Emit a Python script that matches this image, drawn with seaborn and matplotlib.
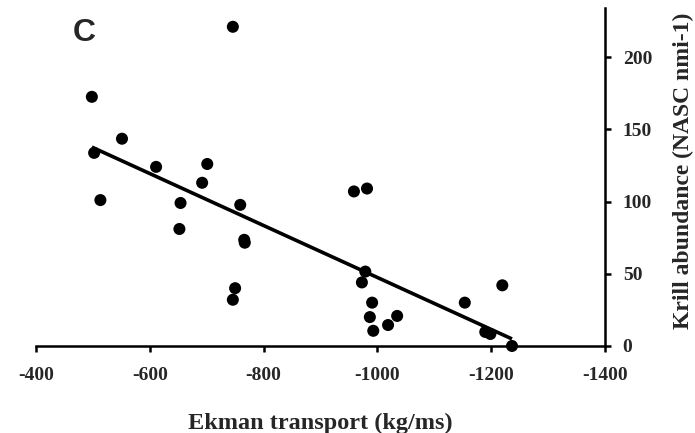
import numpy as np
import pandas as pd
import matplotlib
matplotlib.use("Agg")
import matplotlib.pyplot as plt
import seaborn as sns

ekman = [-746, -498, -551, -502, -611, -701, -692, -513, -654, -759,
         -652, -766, -767, -750, -746, -959, -982, -979, -973, -991,
         -987, -993, -1019, -1035, -1154, -1220, -1190, -1199, -1237]
krill = [221, 172.5, 143.5, 133.7, 124, 126, 113, 101, 99, 97.7,
         81, 73.5, 71.5, 40, 32, 107, 109, 51.5, 44, 30,
         20, 10.5, 14.5, 20.8, 30, 42, 9.7, 8.3, 0]
x_ticks = [-400, -600, -800, -1000, -1200, -1400]
y_ticks = [0, 50, 100, 150, 200]

df = pd.DataFrame({"ekman": ekman, "krill": krill})

sns.set_theme(style="white")
plt.rcParams['font.family'] = ['Liberation Serif', 'DejaVu Serif']

fig = plt.figure(figsize=(6.95, 4.33), dpi=100)
ax = fig.add_axes([0.052, 0.201, 0.818, 0.7805])

sns.regplot(data=df, x="ekman", y="krill", ax=ax, ci=None, truncate=True,
            color="black",
            scatter_kws=dict(s=75, alpha=1, edgecolor="none", clip_on=False, zorder=3),
            line_kws=dict(lw=2.6, solid_capstyle="butt"))

ax.set_xlim(-400, -1400)
ax.set_ylim(0, 234)
ax.set_xticks(x_ticks)
ax.set_yticks(y_ticks)
ax.set_xticklabels([str(v) for v in x_ticks], fontsize=14, fontweight="bold")
ax.set_yticklabels([str(v) for v in y_ticks], fontsize=14, fontweight="bold")

ax.yaxis.tick_right()
ax.yaxis.set_label_position("right")
for s in ["top", "left"]:
    ax.spines[s].set_visible(False)
for s in ["bottom", "right"]:
    ax.spines[s].set_visible(True)
    ax.spines[s].set_color("black")
    ax.spines[s].set_linewidth(1.8)
ax.tick_params(axis="x", direction="out", length=4, width=1.8, color="black",
               bottom=True, pad=11)
ax.tick_params(axis="y", direction="out", length=4, width=1.8, color="black",
               right=True, left=False, pad=9)

ax.set_xlabel("Ekman transport (kg/ms)", fontsize=17.5, fontweight="bold")
ax.set_ylabel("Krill abundance (NASC nmi-1)", fontsize=17, fontweight="bold",
              rotation=90)
ax.xaxis.set_label_coords(0.5, -0.198)
ax.yaxis.set_label_coords(1.12, 0.518)
ax.grid(False)

fig.text(0.105, 0.923, "C", fontsize=23, fontweight="bold",
         family=["Liberation Sans", "DejaVu Sans"], ha="left", va="center")

fig.savefig("out.png", dpi=100)
